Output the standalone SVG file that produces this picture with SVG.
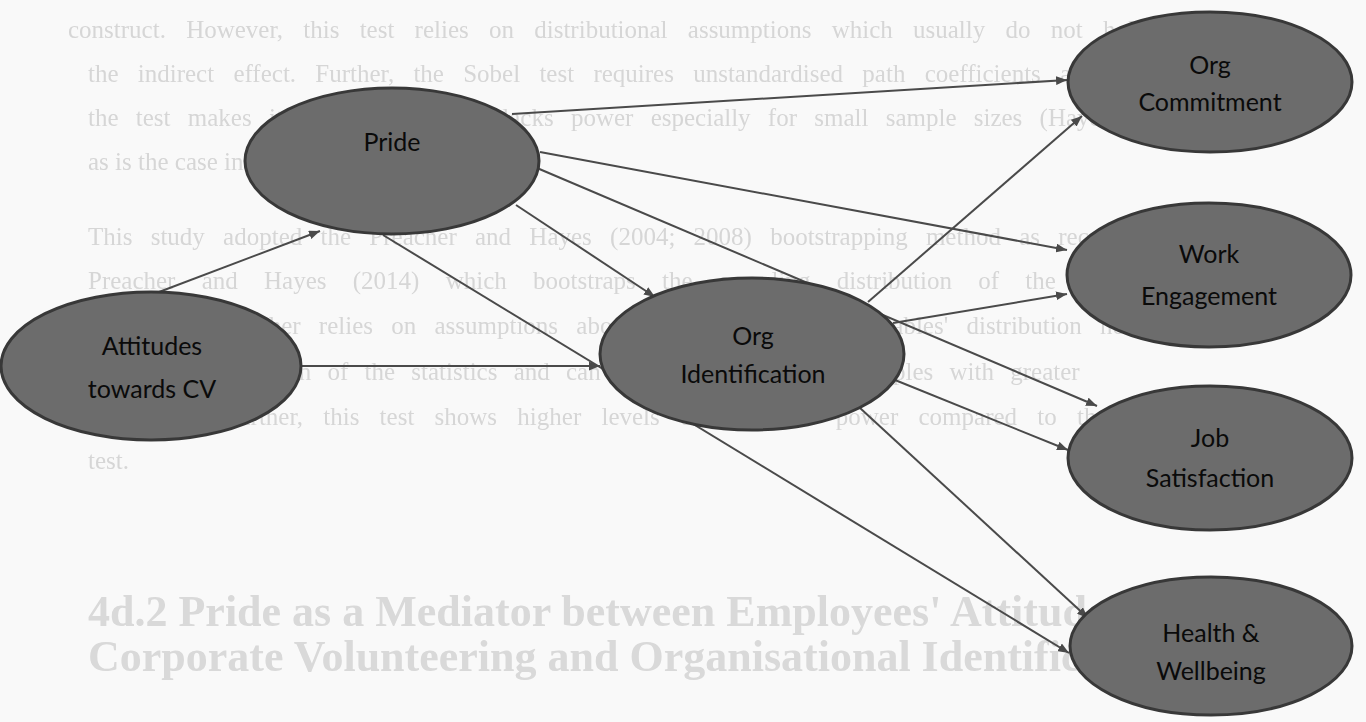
<svg xmlns="http://www.w3.org/2000/svg" width="1366" height="722" viewBox="0 0 1366 722">
  <defs>
    <marker id="arrow" viewBox="0 0 10 8" refX="10" refY="4" markerWidth="11" markerHeight="9" markerUnits="userSpaceOnUse" orient="auto">
      <path d="M0,0 L10,4 L0,8 z" fill="#4a4a4a"/>
    </marker>
    <filter id="soft" x="-5%" y="-20%" width="110%" height="140%">
      <feGaussianBlur stdDeviation="0.7"/>
    </filter>
  </defs>
  <style>
    .page { font-family: "Liberation Serif", "Times New Roman", serif; font-size: 25px; fill: #d6d6d6; }
    .head { font-family: "Liberation Serif", "Times New Roman", serif; font-size: 44px; font-weight: bold; fill: #d9d9d9; }
    .node ellipse { fill: #6c6c6c; stroke: #383838; stroke-width: 3; }
    .node text { font-family: Lato, "Liberation Sans", Arial, sans-serif; font-size: 25px; fill: #0a0a0a; text-anchor: middle; }
    .edge { stroke: #4a4a4a; stroke-width: 2; fill: none; marker-end: url(#arrow); }
  </style>

  <rect x="0" y="0" width="1366" height="722" fill="#f9f9f9"/>

  <!-- faint page text behind the model -->
  <g id="page-text" filter="url(#soft)">
    <text class="page" x="68" y="38" word-spacing="14">construct. However, this test relies on distributional assumptions which usually do not hold for</text>
    <text class="page" x="88" y="82" word-spacing="13">the indirect effect. Further, the Sobel test requires unstandardised path coefficients as input</text>
    <text class="page" x="88" y="126" word-spacing="11">the test makes it less useful as it lacks power especially for small sample sizes (Hayes, 2013)</text>
    <text class="page" x="88" y="170">as is the case in this study.</text>
    <text class="page" x="88" y="245" word-spacing="12">This study adopted the Preacher and Hayes (2004; 2008) bootstrapping method as recommended by</text>
    <text class="page" x="88" y="289" word-spacing="20">Preacher and Hayes (2014) which bootstraps the sampling distribution of the indirect</text>
    <text class="page" x="88" y="334" word-spacing="12">effect. This neither relies on assumptions about the normality of variables' distribution nor the</text>
    <text class="page" x="88" y="380" word-spacing="10">sampling distribution of the statistics and can be applied to small samples with greater</text>
    <text class="page" x="88" y="425" word-spacing="14">confidence. Further, this test shows higher levels of statistical power compared to the Sobel</text>
    <text class="page" x="88" y="469">test.</text>
    <text class="head" x="88" y="626">4d.2 Pride as a Mediator between Employees' Attitudes towards</text>
    <text class="head" x="88" y="671">Corporate Volunteering and Organisational Identification</text>
  </g>

  <!-- paths between constructs -->
  <g id="connectors">
    <line class="edge" x1="159" y1="292" x2="320" y2="231"/>
    <line class="edge" x1="301" y1="366" x2="600" y2="366"/>
    <line class="edge" x1="516" y1="205" x2="655" y2="297"/>
    <line class="edge" x1="383" y1="235" x2="1069" y2="653"/>
    <line class="edge" x1="512" y1="114" x2="1067" y2="80"/>
    <line class="edge" x1="540" y1="152" x2="1067" y2="250"/>
    <line class="edge" x1="537" y1="168" x2="1097" y2="406"/>
    <line class="edge" x1="868" y1="302" x2="1082" y2="116"/>
    <line class="edge" x1="893" y1="323" x2="1067" y2="294"/>
    <line class="edge" x1="895" y1="380" x2="1068" y2="450"/>
    <line class="edge" x1="860" y1="408" x2="1088" y2="618"/>
  </g>

  <g id="attitudes" class="node">
    <ellipse cx="151" cy="366" rx="150" ry="74"/>
    <text x="152" y="355">Attitudes</text>
    <text x="152" y="398">towards CV</text>
  </g>

  <g id="pride" class="node">
    <ellipse cx="392" cy="161" rx="147" ry="73"/>
    <text x="392" y="151">Pride</text>
  </g>

  <g id="org-identification" class="node">
    <ellipse cx="752" cy="354" rx="152" ry="76"/>
    <text x="753" y="345">Org</text>
    <text x="753" y="383">Identification</text>
  </g>

  <g id="org-commitment" class="node">
    <ellipse cx="1210" cy="82" rx="142" ry="70"/>
    <text x="1210" y="74">Org</text>
    <text x="1210" y="111">Commitment</text>
  </g>

  <g id="work-engagement" class="node">
    <ellipse cx="1209" cy="275" rx="142" ry="72"/>
    <text x="1209" y="263">Work</text>
    <text x="1209" y="305">Engagement</text>
  </g>

  <g id="job-satisfaction" class="node">
    <ellipse cx="1210" cy="458" rx="142" ry="72"/>
    <text x="1210" y="447">Job</text>
    <text x="1210" y="487">Satisfaction</text>
  </g>

  <g id="health-wellbeing" class="node">
    <ellipse cx="1211" cy="646" rx="141" ry="69"/>
    <text x="1211" y="642">Health &amp;</text>
    <text x="1211" y="680">Wellbeing</text>
  </g>
</svg>
